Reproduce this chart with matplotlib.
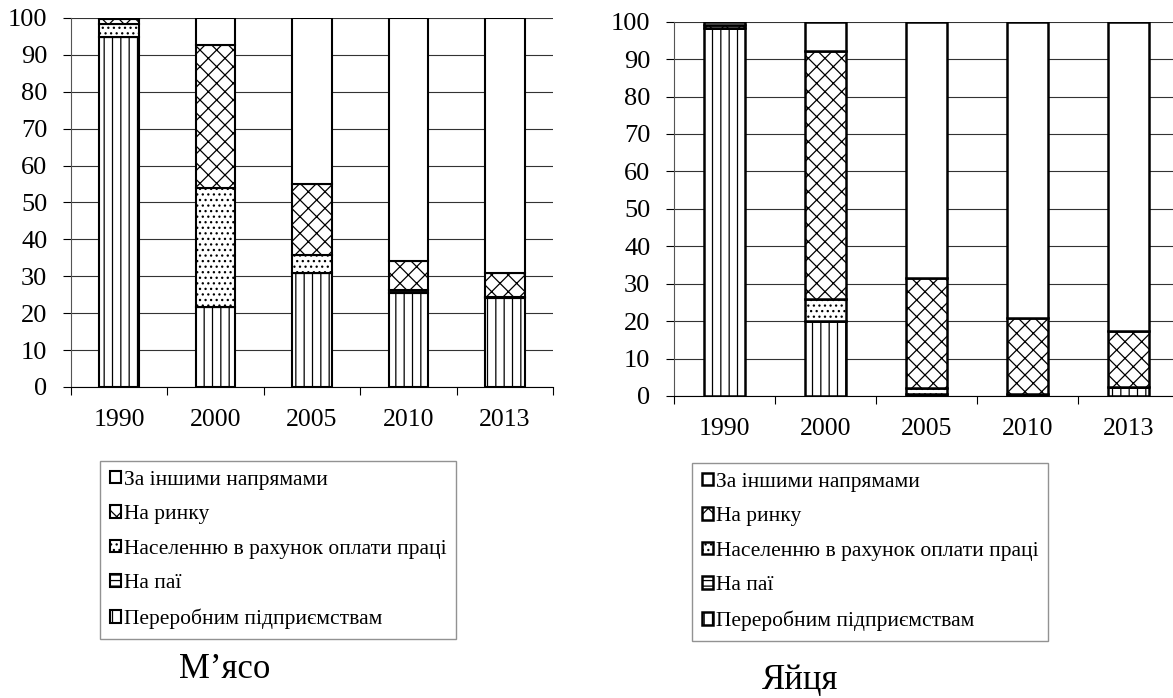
import numpy as np
import matplotlib
matplotlib.use("Agg")
import matplotlib.pyplot as plt

plt.rcParams.update({"font.family": ["Liberation Serif", "DejaVu Serif"],
                     "hatch.linewidth": 0.9, "hatch.color": "black"})

years = ["1990", "2000", "2005", "2010", "2013"]
labels = ["Переробним підприємствам", "На паї",
          "Населенню в рахунок оплати праці", "На ринку",
          "За іншими напрямами"]
hatches = ["||", "---", "...", "xx", ""]

# М'ясо, %
meat_processing = [94.7, 21.6, 31.0, 25.5, 24.0]
meat_shares = [0.0, 0.0, 0.0, 0.8, 0.5]
meat_wages = [3.6, 32.2, 4.8, 0.0, 0.0]
meat_market = [1.4, 38.9, 19.1, 7.8, 6.5]
meat_other = [0.3, 7.3, 45.1, 65.9, 69.0]

# Яйця, %
egg_processing = [98.2, 20.0, 0.5, 0.0, 2.3]
egg_shares = [0.0, 0.0, 0.0, 0.5, 0.0]
egg_wages = [0.0, 5.8, 1.5, 0.0, 0.0]
egg_market = [1.0, 66.5, 29.6, 20.3, 15.1]
egg_other = [0.8, 7.7, 68.4, 79.2, 82.6]


def draw(ax, series, lw):
    x = np.arange(len(years))
    bottom = np.zeros(len(years))
    handles = []
    for vals, h, lab in zip(series, hatches, labels):
        b = ax.bar(x, vals, 0.41, bottom=bottom, color="white",
                   edgecolor="black", hatch=h, linewidth=lw, label=lab,
                   zorder=3)
        handles.append(b)
        bottom += np.array(vals)
    ax.set_xlim(-0.5, len(years) - 0.5)
    ax.set_ylim(0, 100)
    ax.set_yticks(np.arange(0, 101, 10))
    ax.set_xticks(np.arange(len(years) + 1) - 0.5)
    ax.set_xticklabels([])
    ax.set_xticks(x, minor=True)
    ax.set_xticklabels(years, minor=True)
    ax.tick_params(axis="x", which="minor", length=0, pad=16, labelsize=18.5)
    ax.tick_params(axis="x", which="major", length=6, direction="out")
    ax.tick_params(axis="y", length=6, pad=11, labelsize=19)
    ax.grid(axis="y", color="#333333", linewidth=0.8, zorder=0)
    for s in ["top", "right"]:
        ax.spines[s].set_visible(False)
    ax.spines["left"].set_color("#555555")
    return handles


fig = plt.figure(figsize=(11.73, 6.98), dpi=100)
ax1 = fig.add_axes([0.0605, 0.4456, 0.4109, 0.5287])
ax2 = fig.add_axes([0.5746, 0.4327, 0.4305, 0.5362])

h1 = draw(ax1, [meat_processing, meat_shares, meat_wages, meat_market, meat_other], 1.5)
h2 = draw(ax2, [egg_processing, egg_shares, egg_wages, egg_market, egg_other], 1.8)

for h, anchor in [(h1, (0.0853, 0.3395)), (h2, (0.590, 0.3367))]:
    leg = fig.legend(h[::-1], labels[::-1], loc="upper left",
                     bbox_to_anchor=anchor, bbox_transform=fig.transFigure,
                     borderaxespad=0, fontsize=15.5, frameon=True, fancybox=False,
                     handlelength=0.5, handleheight=0.5, handletextpad=0.15,
                     labelspacing=0.72, borderpad=0.45, edgecolor="#777777")
    leg.get_frame().set_linewidth(1.0)

fig.text(225 / 1173, 1 - 670 / 698, "М’ясо", ha="center", va="center", fontsize=25)
fig.text(800 / 1173, 1 - 680 / 698, "Яйця", ha="center", va="center", fontsize=25)

fig.savefig("out.png", dpi=100)
